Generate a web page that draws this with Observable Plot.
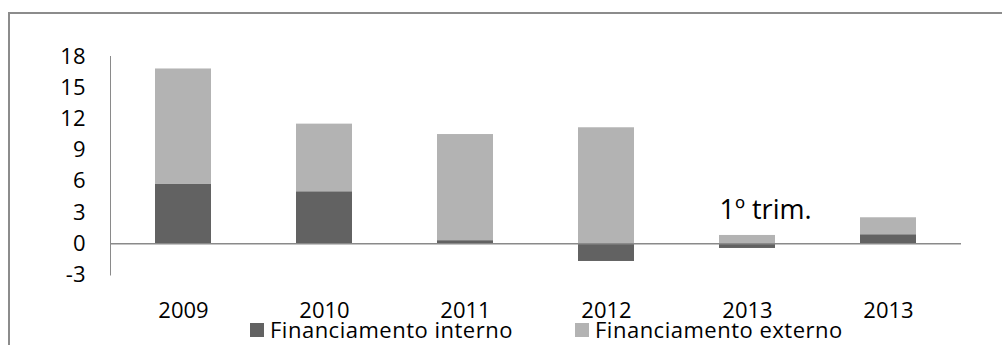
<!DOCTYPE html>
<html>
<head>
<meta charset="utf-8">
<script src="https://cdn.jsdelivr.net/npm/d3@7"></script>
<script src="https://cdn.jsdelivr.net/npm/@observablehq/plot@0.6"></script>
<style>
  html, body { margin: 0; padding: 0; background: #fff; overflow: hidden; }
  body { width: 1002px; height: 345px; position: relative; font-family: "Open Sans", sans-serif; }
  #frame { position: absolute; left: 8px; top: 12px; width: 1100px; height: 400px; border: 2px solid #8c8c8c; box-sizing: border-box; }
  #chart { position: absolute; left: 0; top: 0; }
  .legend-item { position: absolute; top: 317px; display: flex; align-items: center; font-size: 22px; line-height: 24px; letter-spacing: 0.5px; color: #000; white-space: nowrap; }
  .legend-item .swatch { width: 14px; height: 14px; margin-right: 6px; margin-top: 2px; }
</style>
</head>
<body>
<div id="frame"></div>
<div id="chart"></div>
<div id="legend"></div>
<script>
// Periods on the x axis (keys) and the labels printed under them
const periods = ["2009", "2010", "2011", "2012", "2013 T1", "2013"];
const tickLabels = ["2009", "2010", "2011", "2012", "2013", "2013"];

// Financing sources, in stacking order
const series = ["Financiamento interno", "Financiamento externo"];
const seriesColors = ["#626262", "#b3b3b3"];

// Values per period (percentage points)
const interno = [5.7, 5.0, 0.3, -1.7, -0.45, 0.87];
const externo = [11.1, 6.5, 10.2, 11.15, 0.8, 1.63];

// y axis ticks
const yTicks = [-3, 0, 3, 6, 9, 12, 15, 18];

// Annotation for the first-quarter bar
const notePeriod = "2013 T1";
const noteText = "1º trim.";

const rows = [];
periods.forEach((p, i) => {
  rows.push({period: p, series: series[0], value: interno[i]});
  rows.push({period: p, series: series[1], value: externo[i]});
});
const noteTotal = externo[periods.indexOf(notePeriod)];

const chart = Plot.plot({
  width: 1002,
  height: 320,
  marginLeft: 110,
  marginRight: 41,
  marginTop: 56,
  marginBottom: 45.5,
  style: {fontFamily: "Open Sans", fontSize: "22px", color: "#000", background: "transparent", overflow: "visible"},
  x: {
    domain: periods,
    paddingInner: 0.6,
    paddingOuter: 0.3,
    tickSize: 0,
    tickPadding: 27,
    tickFormat: d => tickLabels[periods.indexOf(d)],
    label: null
  },
  y: {
    domain: [-3, 18],
    ticks: yTicks,
    tickSize: 0,
    tickPadding: 25,
    tickFormat: d => String(d),
    label: null
  },
  color: {domain: series, range: seriesColors},
  marks: [
    Plot.barY(rows, {x: "period", y: "value", fill: "series", order: series}),
    Plot.frame({anchor: "left", stroke: "#8a8a8a", strokeOpacity: 1}),
    Plot.ruleY([0], {stroke: "#8a8a8a", strokeWidth: 1.5}),
    Plot.text([{period: notePeriod, y: noteTotal, text: noteText}], {
      x: "period", y: "y", text: "text",
      lineAnchor: "bottom", dy: -16, dx: 18,
      fontSize: 27, fill: "#000"
    })
  ]
});
document.getElementById("chart").appendChild(chart);

// Legend below the plot
const legendLeft = [250, 575];
const legend = document.getElementById("legend");
series.forEach((s, i) => {
  const item = document.createElement("div");
  item.className = "legend-item";
  item.style.left = legendLeft[i] + "px";
  const sw = document.createElement("span");
  sw.className = "swatch";
  sw.style.background = seriesColors[i];
  const label = document.createElement("span");
  label.textContent = s;
  item.appendChild(sw);
  item.appendChild(label);
  legend.appendChild(item);
});
</script>
</body>
</html>
